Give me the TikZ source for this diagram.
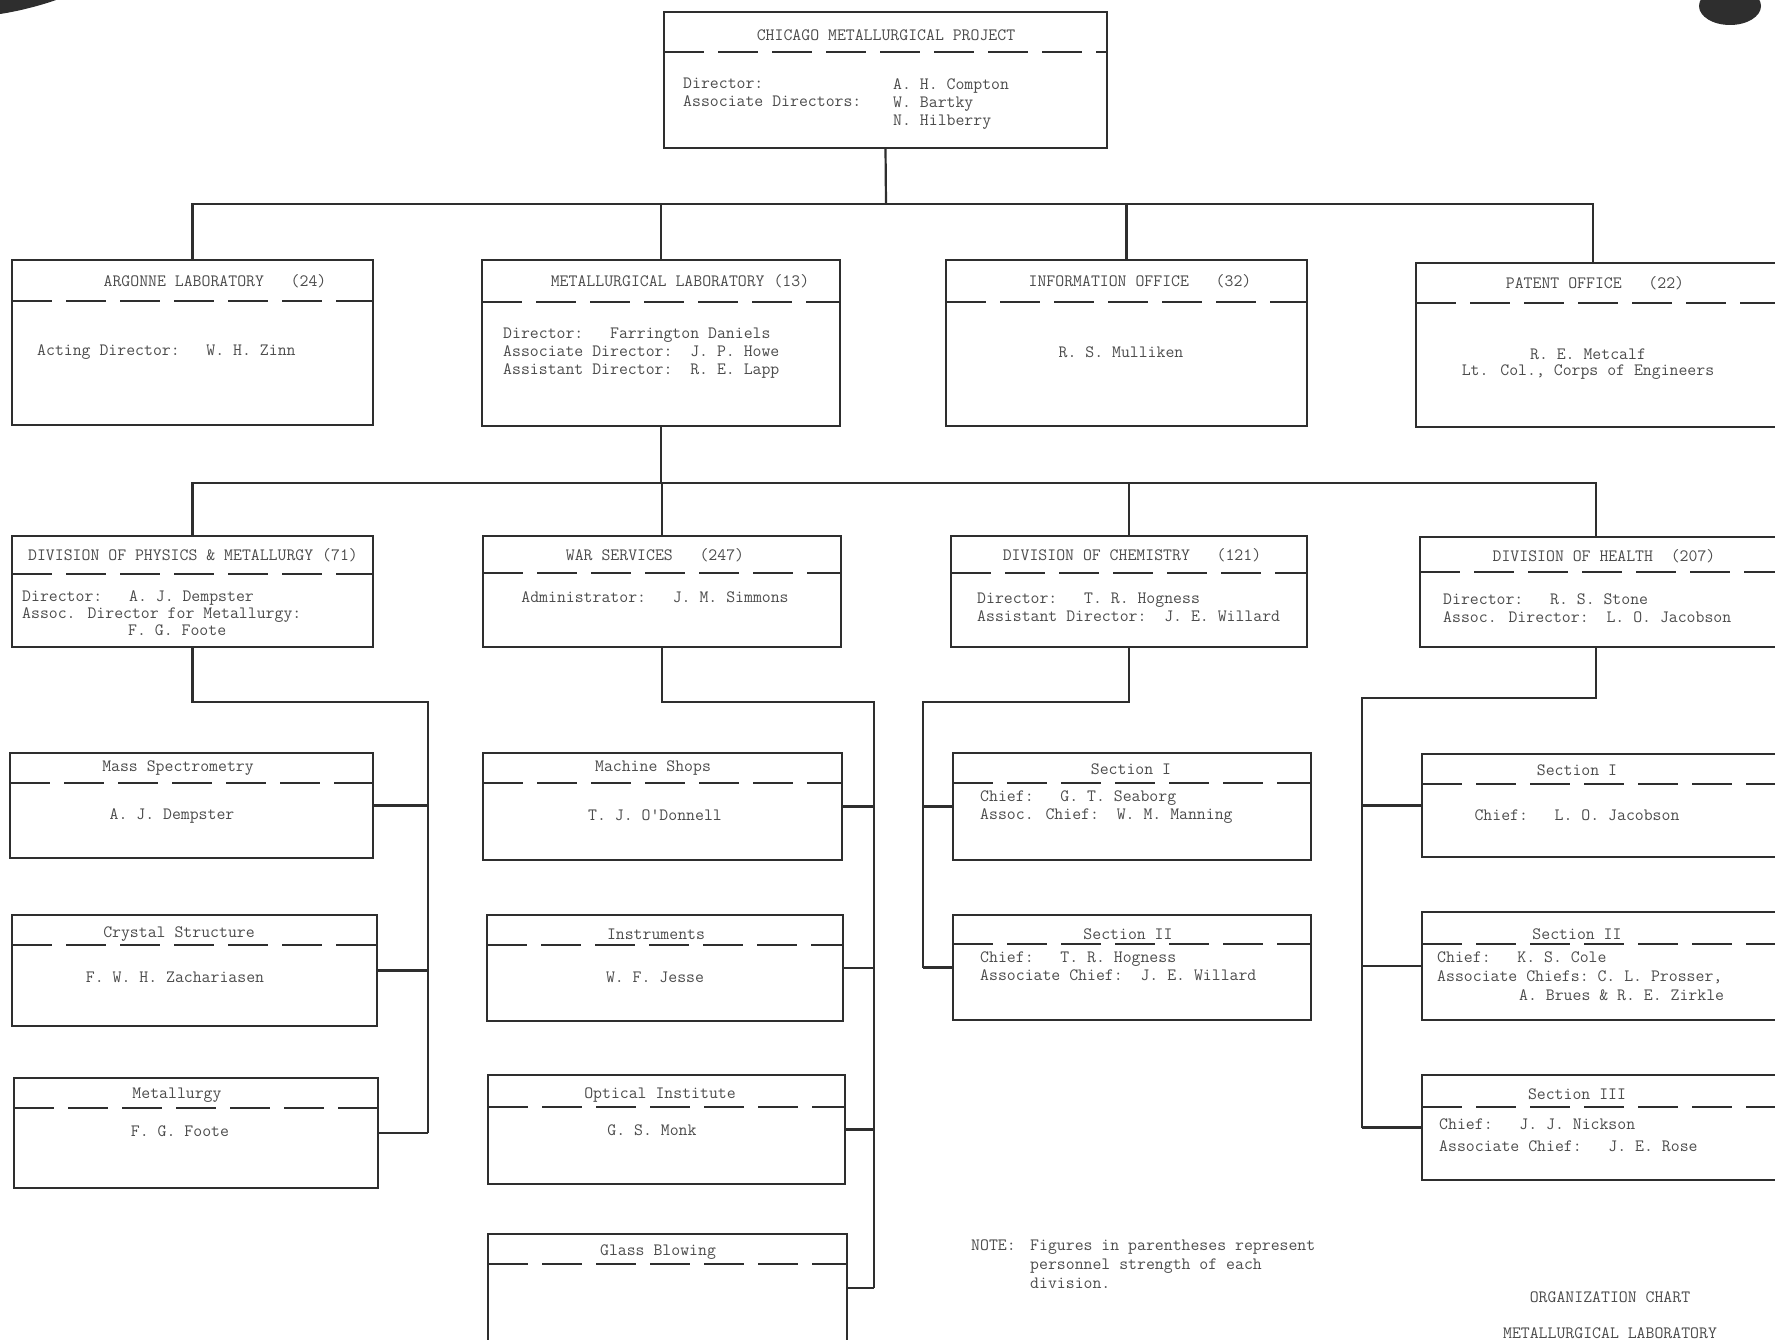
\documentclass[tikz,border=0pt]{standalone}
\usepackage{fontspec}
\usetikzlibrary{calc}
\definecolor{ink}{HTML}{2E2E2E}
\definecolor{txt}{HTML}{4C4C4C}
\newcommand\typew{\ttfamily\fontsize{17.3}{18}\selectfont}
\newcommand\sepat[2]{\draw[sep] ($(#1.north west)+(0,#2)$) -- ($(#1.north east)+(0,#2)$);}
\begin{document}
\begin{tikzpicture}[x=1pt,y=-1pt,
  box/.style={draw=ink,line width=2.2pt,rectangle,anchor=north west,inner sep=0pt,outer sep=0pt},
  sep/.style={draw=ink,line width=2pt,dash pattern=on 40pt off 14pt},
  link/.style={draw=ink,line width=2.2pt},
  ttl/.style={text=txt,font=\typew,inner sep=0pt,anchor=center},
  txl/.style={text=txt,font=\typew,inner sep=0pt,anchor=north west,align=left},
  txc/.style={text=txt,font=\typew,inner sep=0pt,anchor=center,align=center},
]
\useasboundingbox (0,0) rectangle (1775,1340);
\fill[white] (0,0) rectangle (1775,1340);
\clip (0,0) rectangle (1775,1340);

% scan blots
\fill[ink] (0,0) -- (56,0) .. controls (42,5) and (20,11) .. (0,14) -- cycle;
\fill[ink] (1730,6) ellipse (31pt and 19pt);

% ---------- top ----------
\node[box,minimum width=443pt,minimum height=136pt] (cmp) at (664,12) {};
\sepat{cmp}{40}
\node[ttl] (cmpT) at (886,35) {CHICAGO METALLURGICAL PROJECT};
\node[txl] (cmpL) at (683,78) {Director:\\Associate Directors:};
\node[txl] (cmpN) at (893,78) {A. H. Compton\\W. Bartky\\N. Hilberry};

% ---------- row 2 ----------
\node[box,minimum width=361pt,minimum height=165pt] (arg) at (12,260) {};
\sepat{arg}{41}
\node[ttl] (argT) at (215,281) {ARGONNE LABORATORY\ \ \ (24)};
\node[ttl,anchor=west] (argB) at (37,352) {Acting Director:\ \ \ W. H. Zinn};

\node[box,minimum width=358pt,minimum height=166pt] (met) at (482,260) {};
\sepat{met}{42}
\node[ttl] (metT) at (680,281) {METALLURGICAL LABORATORY (13)};
\node[txl] (metB) at (503,328) {Director:\ \ \ Farrington Daniels\\Associate Director:\ \ J. P. Howe\\Assistant Director:\ \ R. E. Lapp};

\node[box,minimum width=361pt,minimum height=166pt] (inf) at (946,260) {};
\sepat{inf}{42}
\node[ttl] (infT) at (1140,281) {INFORMATION OFFICE\ \ \ (32)};
\node[ttl] (infB) at (1121,352) {R. S. Mulliken};

\node[box,minimum width=400pt,minimum height=164pt] (pat) at (1416,263) {};
\sepat{pat}{40}
\node[ttl] (patT) at (1595,283) {PATENT OFFICE\ \ \ (22)};
\node[txc,anchor=north] (patB) at (1588,349) {R. E. Metcalf\\[-2pt]Lt. Col., Corps of Engineers};

% ---------- row 3 ----------
\node[box,minimum width=361pt,minimum height=111pt] (phy) at (12,536) {};
\sepat{phy}{38}
\node[ttl] (phyT) at (193,555) {DIVISION OF PHYSICS \& METALLURGY (71)};
\node[txl] (phyB) at (22,590) {Director:\ \ \ A. J. Dempster\\[-1pt]Assoc. Director for Metallurgy:\\[-1pt]\hspace*{106pt}F. G. Foote};

\node[box,minimum width=358pt,minimum height=111pt] (war) at (483,536) {};
\sepat{war}{37}
\node[ttl] (warT) at (655,555) {WAR SERVICES\ \ \ (247)};
\node[ttl] (warB) at (655,597) {Administrator:\ \ \ J. M. Simmons};

\node[box,minimum width=356pt,minimum height=111pt] (chm) at (951,536) {};
\sepat{chm}{37}
\node[ttl] (chmT) at (1132,555) {DIVISION OF CHEMISTRY\ \ \ (121)};
\node[txl] (chmB) at (977,593) {Director:\ \ \ T. R. Hogness\\Assistant Director:\ \ J. E. Willard};

\node[box,minimum width=400pt,minimum height=110pt] (hlt) at (1420,537) {};
\sepat{hlt}{35}
\node[ttl] (hltT) at (1604,556) {DIVISION OF HEALTH\ \ (207)};
\node[txl] (hltB) at (1443,594) {Director:\ \ \ R. S. Stone\\Assoc. Director:\ \ L. O. Jacobson};

% ---------- physics column ----------
\node[box,minimum width=363pt,minimum height=105pt] (mas) at (10,753) {};
\sepat{mas}{30}
\node[ttl] (masT) at (178,768) {Mass Spectrometry};
\node[ttl] (masB) at (172,816) {A. J. Dempster};

\node[box,minimum width=365pt,minimum height=111pt] (cry) at (12,915) {};
\sepat{cry}{30}
\node[ttl] (cryT) at (179,934) {Crystal Structure};
\node[ttl] (cryB) at (175,977) {F. W. H. Zachariasen};

\node[box,minimum width=364pt,minimum height=110pt] (mtl) at (14,1078) {};
\sepat{mtl}{30}
\node[ttl] (mtlT) at (177,1095) {Metallurgy};
\node[ttl] (mtlB) at (180,1131) {F. G. Foote};

% ---------- war services column ----------
\node[box,minimum width=359pt,minimum height=107pt] (mac) at (483,753) {};
\sepat{mac}{30}
\node[ttl] (macT) at (653,768) {Machine Shops};
\node[ttl] (macB) at (655,815) {T. J. O'Donnell};

\node[box,minimum width=356pt,minimum height=106pt] (ins) at (487,915) {};
\sepat{ins}{30}
\node[ttl] (insT) at (656,934) {Instruments};
\node[ttl] (insB) at (655,977) {W. F. Jesse};

\node[box,minimum width=357pt,minimum height=109pt] (opt) at (488,1075) {};
\sepat{opt}{32}
\node[ttl] (optT) at (660,1095) {Optical Institute};
\node[ttl] (optB) at (652,1130) {G. S. Monk};

\node[box,minimum width=359pt,minimum height=108pt] (gla) at (488,1234) {};
\sepat{gla}{30}
\node[ttl] (glaT) at (658,1252) {Glass Blowing};

% ---------- chemistry column ----------
\node[box,minimum width=358pt,minimum height=107pt] (cs1) at (953,753) {};
\sepat{cs1}{30}
\node[ttl] (cs1T) at (1131,769) {Section I};
\node[txl] (cs1B) at (980,791) {Chief:\ \ \ G. T. Seaborg\\Assoc. Chief:\ \ W. M. Manning};

\node[box,minimum width=358pt,minimum height=105pt] (cs2) at (953,915) {};
\sepat{cs2}{29}
\node[ttl] (cs2T) at (1128,934) {Section II};
\node[txl] (cs2B) at (980,952) {Chief:\ \ \ T. R. Hogness\\Associate Chief:\ \ J. E. Willard};

% ---------- health column ----------
\node[box,minimum width=400pt,minimum height=103pt] (hs1) at (1422,754) {};
\sepat{hs1}{30}
\node[ttl] (hs1T) at (1577,770) {Section I};
\node[ttl] (hs1B) at (1577,815) {Chief:\ \ \ L. O. Jacobson};

\node[box,minimum width=400pt,minimum height=108pt] (hs2) at (1422,912) {};
\sepat{hs2}{32}
\node[ttl] (hs2T) at (1577,934) {Section II};
\node[txl] (hs2B) at (1437,952) {Chief:\ \ \ K. S. Cole\\[1pt]Associate Chiefs:\ C. L. Prosser,\\[1pt]\hspace*{82pt}A. Brues \& R. E. Zirkle};

\node[box,minimum width=400pt,minimum height=105pt] (hs3) at (1422,1075) {};
\sepat{hs3}{32}
\node[ttl] (hs3T) at (1577,1094) {Section III};
\node[txl] (hs3B) at (1439,1119) {Chief:\ \ \ J. J. Nickson\\[4pt]Associate Chief:\ \ \ J. E. Rose};

% ---------- note and caption ----------
\node[txl] (noteH) at (971,1240) {NOTE:};
\node[txl] (noteB) at (1030,1240) {Figures in parentheses represent\\[1pt]personnel strength of each\\[1pt]division.};
\node[ttl] (cap1) at (1610,1297) {ORGANIZATION CHART};
\node[ttl] (cap2) at (1610,1333) {METALLURGICAL LABORATORY};

% ---------- connectors ----------
\coordinate (j1) at (886,204);
\coordinate (patc) at ($(pat.north west)+(177,0)$);
\draw[link] (cmp.south) -- (j1);
\draw[link] (arg.north) |- (j1) -| (patc);
\draw[link] (met.north) -- (met.north |- j1);
\draw[link] (inf.north) -- (inf.north |- j1);

\coordinate (j2) at (661,483);
\coordinate (hltc) at ($(hlt.north west)+(176,0)$);
\draw[link] (met.south) -- (j2);
\draw[link] (phy.north) |- (j2) -| (hltc);
\draw[link] (war.north) -- (war.north |- j2);
\draw[link] (chm.north) -- (chm.north |- j2);

% physics subtree
\coordinate (pk) at (428,702);
\draw[link] (phy.south) |- (pk) -- (pk |- mtl.east);
\draw[link] (mas.east) -- (mas.east -| pk);
\draw[link] (cry.east) -- (cry.east -| pk);
\draw[link] (mtl.east) -- (mtl.east -| pk);

% war services subtree
\coordinate (wk) at (874,702);
\draw[link] (war.south) |- (wk) -- (wk |- gla.east);
\draw[link] (mac.east) -- (mac.east -| wk);
\draw[link] (ins.east) -- (ins.east -| wk);
\draw[link] (opt.east) -- (opt.east -| wk);
\draw[link] (gla.east) -- (gla.east -| wk);

% chemistry subtree
\coordinate (ck) at (923,702);
\draw[link] (chm.south) |- (ck) -- (ck |- cs2.west);
\draw[link] (cs1.west) -- (cs1.west -| ck);
\draw[link] (cs2.west) -- (cs2.west -| ck);

% health subtree
\coordinate (hlb) at ($(hlt.south west)+(176,0)$);
\coordinate (hk) at (1362,698);
\draw[link] (hlb) |- (hk) -- (hk |- hs3.west);
\draw[link] (hs1.west) -- (hs1.west -| hk);
\draw[link] (hs2.west) -- (hs2.west -| hk);
\draw[link] (hs3.west) -- (hs3.west -| hk);
\end{tikzpicture}
\end{document}
